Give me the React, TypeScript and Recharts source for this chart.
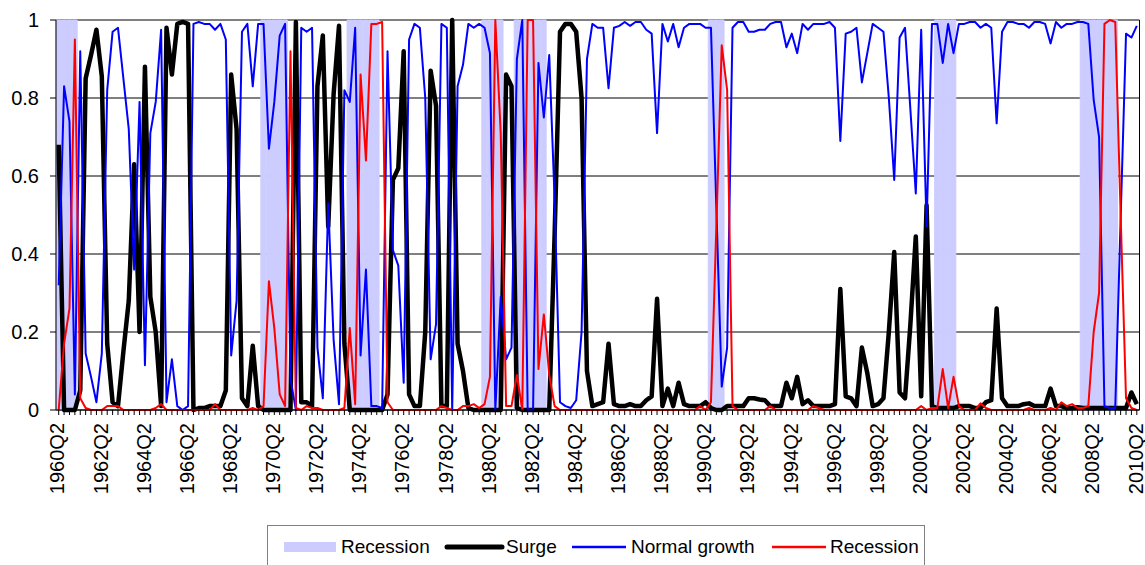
import React from 'react';
import { ComposedChart, Bar, Line, XAxis, YAxis, CartesianGrid, Legend } from 'recharts';

const FONT = '"Liberation Sans", Arial, Helvetica, sans-serif';

// Quarter categories 1960Q2 .. 2010Q2
const quarters: string[] = [];
for (let i = 0; i <= 200; i++) {
  quarters.push(`${1960 + Math.floor((i + 1) / 4)}Q${((i + 1) % 4) + 1}`);
}

const xTickLabels: string[] = quarters.filter((_, i) => i % 8 === 0);
const yTicks = [0, 0.2, 0.4, 0.6, 0.8, 1];

const seriesNames = ['Recession', 'Surge', 'Normal growth', 'Recession'];

const surge = [
  0.68, 0, 0, 0, 0.05, 0.85, 0.91, 0.975, 0.855, 0.17,
  0.02, 0.01, 0.15, 0.28, 0.63, 0.2, 0.88, 0.29, 0.2, 0.01,
  0.98, 0.86, 0.99, 0.995, 0.99, 0, 0.005, 0.005, 0.01, 0.01,
  0.01, 0.05, 0.86, 0.72, 0.03, 0.01, 0.165, 0.01, 0, 0,
  0, 0, 0, 0, 0.995, 0.02, 0.02, 0.01, 0.83, 0.96,
  0.47, 0.81, 0.985, 0.17, 0, 0, 0, 0, 0, 0,
  0, 0.04, 0.59, 0.62, 0.92, 0.04, 0.01, 0.01, 0.2, 0.87,
  0.78, 0.01, 0.01, 1.0, 0.17, 0.1, 0.005, 0, 0, 0,
  0, 0, 0, 0.86, 0.83, 0.005, 0, 0, 0, 0,
  0, 0, 0.45, 0.97, 0.99, 0.99, 0.97, 0.8, 0.1, 0.01,
  0.015, 0.02, 0.17, 0.015, 0.01, 0.01, 0.015, 0.01, 0.01, 0.025,
  0.035, 0.285, 0.01, 0.055, 0.01, 0.07, 0.015, 0.01, 0.01, 0.01,
  0.02, 0.005, 0, 0, 0.01, 0.01, 0.01, 0.01, 0.03, 0.03,
  0.027, 0.025, 0.01, 0.01, 0.01, 0.07, 0.03, 0.085, 0.015, 0.025,
  0.01, 0.01, 0.01, 0.01, 0.015, 0.31, 0.035, 0.03, 0.01, 0.16,
  0.095, 0.01, 0.015, 0.03, 0.2, 0.405, 0.045, 0.03, 0.22, 0.445,
  0.035, 0.525, 0.01, 0.005, 0.005, 0.005, 0.005, 0.01, 0.01, 0.01,
  0.005, 0.005, 0.02, 0.025, 0.26, 0.03, 0.01, 0.01, 0.01, 0.015,
  0.017, 0.01, 0.01, 0.01, 0.055, 0.01, 0.01, 0.005, 0.005, 0.007,
  0.005, 0.005, 0.005, 0.005, 0.005, 0.005, 0.005, 0.005, 0.005, 0.045,
  0.015,
];

const normalGrowth = [
  0.32, 0.83, 0.74, 0.04, 0.92, 0.145, 0.085, 0.02, 0.145, 0.82,
  0.97, 0.98, 0.85, 0.72, 0.36, 0.79, 0.115, 0.71, 0.79, 0.975,
  0.02, 0.13, 0.01, 0, 0.01, 0.99, 0.995, 0.99, 0.99, 0.975,
  0.99, 0.95, 0.14, 0.28, 0.97, 0.99, 0.83, 0.99, 0.99, 0.67,
  0.79, 0.96, 0.99, 0.08, 0, 0.98, 0.97, 0.98, 0.16, 0.03,
  0.53, 0.18, 0.015, 0.82, 0.79, 0.98, 0.14, 0.36, 0.01, 0.01,
  0.005, 0.92, 0.41, 0.37, 0.07, 0.95, 0.99, 0.98, 0.8, 0.13,
  0.22, 0.99, 0.98, 0, 0.83, 0.885, 0.99, 0.98, 0.99, 0.98,
  0.915, 0, 0.29, 0.13, 0.16, 0.9, 1.0, 0, 0, 0.89,
  0.75, 0.91, 0.54, 0.02, 0.01, 0.005, 0.025, 0.2, 0.9, 0.99,
  0.98, 0.98, 0.825, 0.98, 0.985, 0.995, 0.985, 0.995, 0.995, 0.975,
  0.965, 0.71, 0.99, 0.945, 0.99, 0.93, 0.98, 0.99, 0.99, 0.99,
  0.98, 0.98, 0.52, 0.06, 0.16, 0.98, 0.995, 0.995, 0.97, 0.97,
  0.975, 0.975, 0.99, 0.995, 0.995, 0.93, 0.965, 0.915, 0.99, 0.975,
  0.99, 0.99, 0.99, 0.995, 0.98, 0.69, 0.965, 0.97, 0.98, 0.84,
  0.915, 0.99, 0.98, 0.97, 0.8, 0.59, 0.955, 0.98, 0.77, 0.555,
  0.975, 0.47, 0.99, 0.99, 0.89, 0.99, 0.915, 0.99, 0.99, 0.995,
  0.995, 0.98, 0.99, 0.98, 0.735, 0.97, 0.995, 0.995, 0.99, 0.99,
  0.98, 0.995, 0.995, 0.99, 0.94, 0.995, 0.98, 0.99, 0.99, 0.995,
  0.995, 0.99, 0.795, 0.7, 0.01, 0.005, 0.005, 0.49, 0.965, 0.955,
  0.985,
];

const recessionProb = [
  0, 0.17, 0.26, 0.95, 0.03, 0.005, 0, 0, 0, 0.01,
  0.01, 0.01, 0, 0, 0, 0, 0, 0, 0.005, 0.015,
  0, 0, 0, 0, 0, 0, 0, 0, 0, 0.015,
  0, 0, 0, 0, 0, 0, 0.005, 0, 0.01, 0.33,
  0.21, 0.04, 0.01, 0.92, 0.005, 0, 0.01, 0.005, 0.005, 0,
  0, 0, 0, 0.005, 0.21, 0.015, 0.86, 0.64, 0.99, 0.99,
  0.995, 0.02, 0, 0, 0, 0, 0, 0, 0, 0,
  0, 0.01, 0.005, 0, 0, 0.01, 0.01, 0.015, 0.005, 0.015,
  0.085, 1.0, 0.71, 0.01, 0.01, 0.09, 0, 1.0, 1.0, 0.105,
  0.245, 0.09, 0.01, 0, 0, 0, 0, 0, 0, 0,
  0, 0, 0, 0, 0, 0, 0, 0, 0, 0,
  0, 0, 0, 0, 0, 0, 0, 0, 0, 0.01,
  0, 0.02, 0.47, 0.935, 0.82, 0.01, 0, 0, 0, 0,
  0, 0, 0.01, 0, 0, 0, 0, 0, 0, 0,
  0.01, 0.005, 0, 0, 0, 0, 0, 0, 0, 0,
  0, 0, 0, 0, 0, 0, 0, 0, 0, 0,
  0.01, 0, 0.005, 0.005, 0.105, 0.005, 0.085, 0.01, 0, 0,
  0, 0.017, 0.005, 0, 0, 0, 0, 0, 0, 0,
  0.005, 0, 0, 0, 0.005, 0, 0.02, 0.01, 0.015, 0.005,
  0.005, 0.01, 0.2, 0.3, 0.99, 1.0, 0.995, 0.5, 0.03, 0.005,
  0,
];

// Recession periods (first and last quarter)
const recessionPeriods: [string, string][] = [
  ['1960Q2', '1961Q1'],
  ['1969Q4', '1970Q4'],
  ['1973Q4', '1975Q1'],
  ['1980Q1', '1980Q4'],
  ['1981Q3', '1982Q4'],
  ['1990Q3', '1991Q1'],
  ['2001Q1', '2001Q4'],
  ['2007Q4', '2009Q2'],
];

const data = quarters.map((q, i) => {
  const inRec = recessionPeriods.some(
    ([a, b]) => i >= quarters.indexOf(a) && i <= quarters.indexOf(b)
  );
  return {
    q,
    band: inRec ? 1 : null,
    surge: surge[i],
    normal: normalGrowth[i],
    recession: recessionProb[i],
  };
});

const XTick = (props: any) => {
  const { x, y, payload } = props;
  if (!xTickLabels.includes(payload.value)) return <g />;
  const ty = y + 6;
  return (
    <text
      x={x}
      y={ty}
      transform={`rotate(-90 ${x} ${ty})`}
      textAnchor="end"
      dy="0.29em"
      fontSize={20}
      fontFamily={FONT}
      fill="#000"
    >
      {payload.value}
    </text>
  );
};

const LegendBox = () => (
  <svg width={660} height={45} style={{ display: 'block' }}>
    <rect x={0.5} y={0.5} width={657} height={60} fill="#fff" stroke="#808080" strokeWidth={1} />
    <rect x={17} y={17} width={52} height={10} fill="#CCCCFF" />
    <text x={74} y={28} fontSize={19} fontFamily={FONT} fill="#000">{seriesNames[0]}</text>
    <line x1={180} y1={22} x2={235} y2={22} stroke="#000" strokeWidth={5} strokeLinecap="round" />
    <text x={239} y={28} fontSize={19} fontFamily={FONT} fill="#000">{seriesNames[1]}</text>
    <line x1={305} y1={22} x2={359} y2={22} stroke="#0000FF" strokeWidth={2.5} />
    <text x={364} y={28} fontSize={19} fontFamily={FONT} fill="#000">{seriesNames[2]}</text>
    <line x1={505} y1={22} x2={559} y2={22} stroke="#FF0000" strokeWidth={2.5} />
    <text x={563} y={28} fontSize={19} fontFamily={FONT} fill="#000">{seriesNames[3]}</text>
  </svg>
);

export default function App() {
  return (
    <div style={{ width: 1145, height: 565, background: '#fff' }}>
      <style>{'body{margin:0;background:#fff;}'}</style>
      <ComposedChart
        width={1145}
        height={565}
        data={data}
        margin={{ top: 20, right: 4.5, bottom: 45, left: 0 }}
        barCategoryGap={0}
        barGap={0}
      >
        <CartesianGrid vertical={false} stroke="#000" strokeWidth={1} />
        <XAxis
          dataKey="q"
          interval={0}
          height={110}
          tickSize={5}
          axisLine={{ stroke: '#000' }}
          tickLine={{ stroke: '#000' }}
          tick={<XTick />}
        />
        <YAxis
          type="number"
          domain={[0, 1]}
          ticks={yTicks}
          width={56}
          tickSize={6}
          tickMargin={11}
          axisLine={{ stroke: '#000' }}
          tickLine={{ stroke: '#000' }}
          tick={{ fontSize: 20, fill: '#000', fontFamily: FONT }}
          tickFormatter={(v: number) => (v === 0 || v === 1 ? String(v) : v.toFixed(1))}
        />
        <YAxis
          yAxisId="right"
          orientation="right"
          type="number"
          domain={[0, 1]}
          width={1}
          tick={false}
          tickLine={false}
          axisLine={{ stroke: '#000' }}
        />
        <Legend
          layout="horizontal"
          verticalAlign="middle"
          align="center"
          wrapperStyle={{ left: 267, top: 525, width: 660, height: 45 }}
          content={<LegendBox />}
        />
        <Bar
          dataKey="band"
          name={seriesNames[0]}
          fill="#CCCCFF"
          stroke="#CCCCFF"
          strokeWidth={1}
          isAnimationActive={false}
        />
        <Line
          type="linear"
          dataKey="surge"
          name={seriesNames[1]}
          stroke="#000"
          strokeWidth={4.5}
          strokeLinejoin="round"
          dot={false}
          activeDot={false}
          isAnimationActive={false}
        />
        <Line
          type="linear"
          dataKey="normal"
          name={seriesNames[2]}
          stroke="#0000FF"
          strokeWidth={2}
          strokeLinejoin="round"
          dot={false}
          activeDot={false}
          isAnimationActive={false}
        />
        <Line
          type="linear"
          dataKey="recession"
          name={seriesNames[3]}
          stroke="#FF0000"
          strokeWidth={2}
          strokeLinejoin="round"
          dot={false}
          activeDot={false}
          isAnimationActive={false}
        />
      </ComposedChart>
    </div>
  );
}
